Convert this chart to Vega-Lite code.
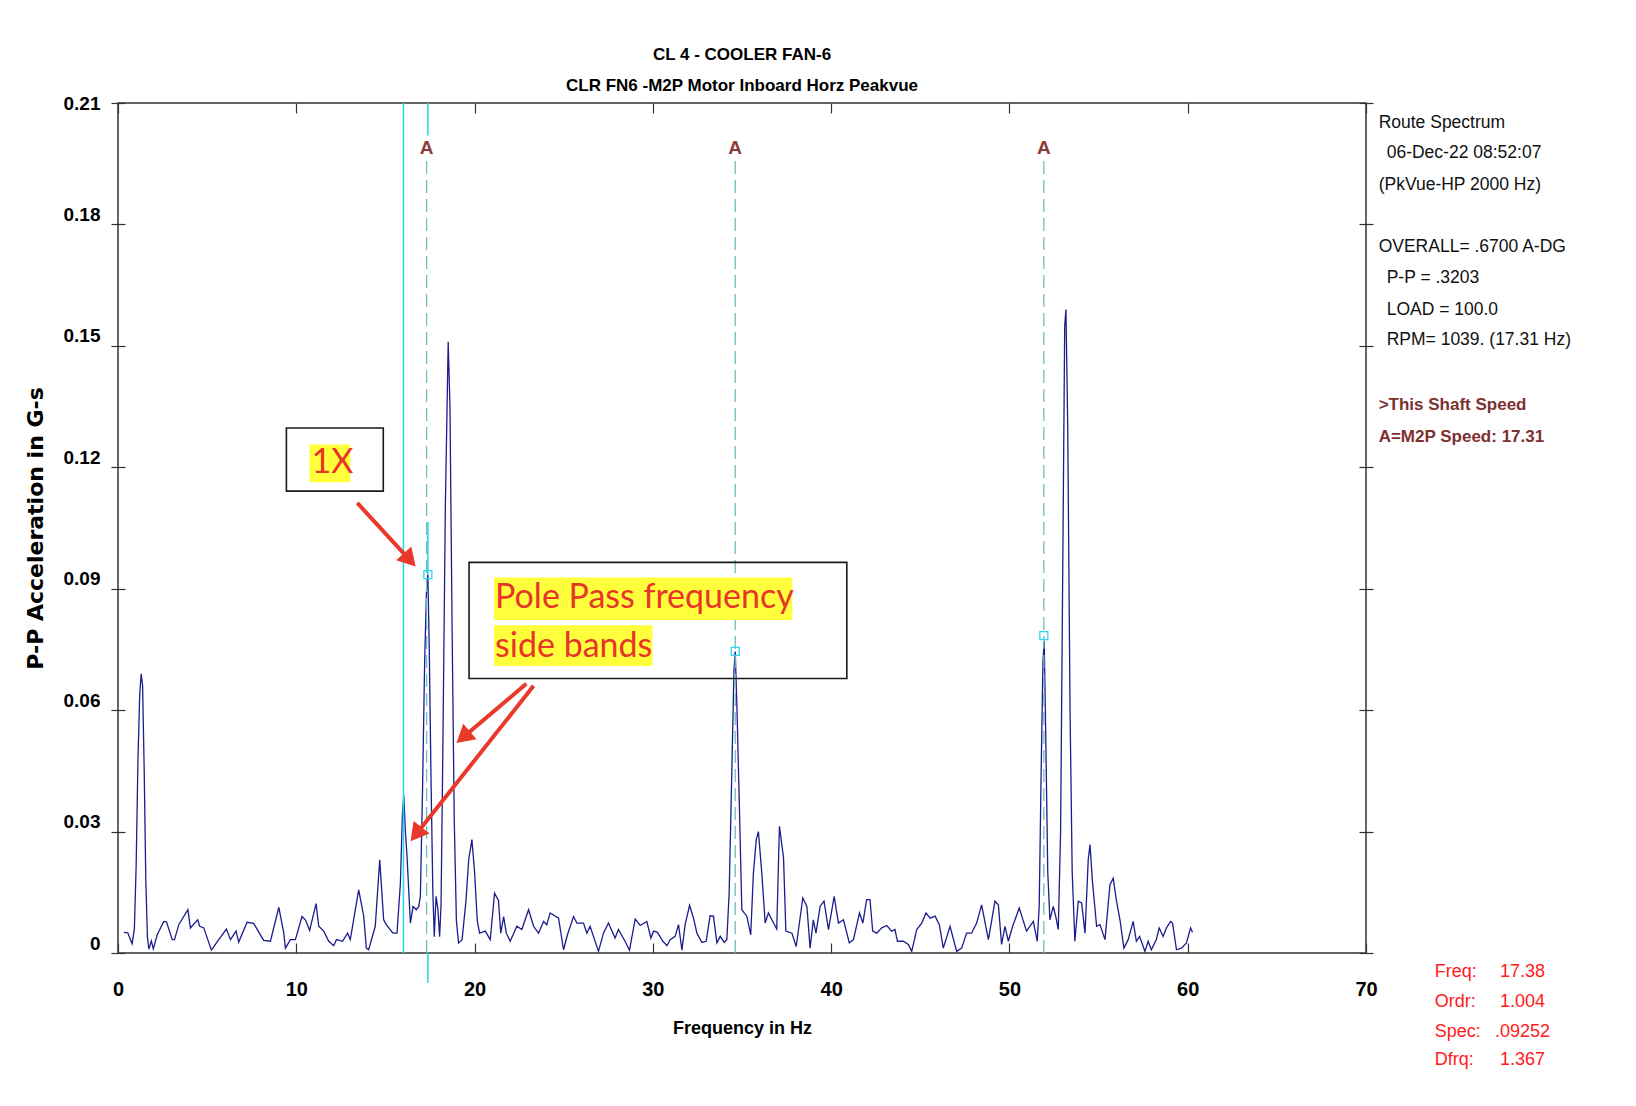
{
  "$schema": "https://vega.github.io/schema/vega-lite/v6.json",
  "width": 1248,
  "height": 850,
  "autosize": {"type": "none"},
  "padding": {"left": 118, "top": 103, "right": 270, "bottom": 153},
  "background": "white",
  "title": {
    "text": "CL 4 - COOLER FAN-6",
    "subtitle": "CLR FN6  -M2P   Motor Inboard Horz Peakvue",
    "anchor": "middle",
    "font": "Liberation Sans",
    "fontSize": 17,
    "fontWeight": "bold",
    "color": "black",
    "subtitleFont": "Liberation Sans",
    "subtitleFontSize": 17,
    "subtitleFontWeight": "bold",
    "subtitleColor": "black",
    "subtitlePadding": 14,
    "offset": -1
  },
  "config": {
    "view": {"stroke": "#333333", "strokeWidth": 1.5},
    "axis": {"grid": false, "tickColor": "#333333", "tickWidth": 1.2}
  },
  "datasets": {
    "spectrum": [
      {"f":0.33,"a":0.0051},{"f":0.55,"a":0.0050},{"f":0.79,"a":0.0023},{"f":0.92,"a":0.006},{"f":1.02,"a":0.022},{"f":1.12,"a":0.048},{"f":1.22,"a":0.064},{"f":1.30,"a":0.069},{"f":1.38,"a":0.066},{"f":1.47,"a":0.045},{"f":1.56,"a":0.018},{"f":1.65,"a":0.004},{"f":1.73,"a":0.0010},{"f":1.87,"a":0.0030},{"f":1.98,"a":0.0010},{"f":2.20,"a":0.0045},{"f":2.57,"a":0.0078},{"f":2.72,"a":0.0077},{"f":3.04,"a":0.0033},{"f":3.17,"a":0.0033},{"f":3.41,"a":0.0070},{"f":3.92,"a":0.0107},{"f":4.06,"a":0.0062},{"f":4.47,"a":0.0082},{"f":4.58,"a":0.0066},{"f":4.81,"a":0.0062},{"f":5.24,"a":0.0007},{"f":5.65,"a":0.0033},{"f":6.08,"a":0.0059},{"f":6.31,"a":0.0033},{"f":6.62,"a":0.0054},{"f":6.77,"a":0.0027},{"f":7.24,"a":0.0076},{"f":7.61,"a":0.0073},{"f":8.17,"a":0.0031},{"f":8.55,"a":0.0029},{"f":9.02,"a":0.0113},{"f":9.30,"a":0.0049},{"f":9.39,"a":0.0012},{"f":9.67,"a":0.0033},{"f":9.95,"a":0.0033},{"f":10.32,"a":0.0090},{"f":10.51,"a":0.0082},{"f":10.75,"a":0.0056},{"f":11.11,"a":0.0122},{"f":11.26,"a":0.0066},{"f":11.54,"a":0.0054},{"f":11.82,"a":0.0029},{"f":12.10,"a":0.0018},{"f":12.25,"a":0.0033},{"f":12.59,"a":0.0029},{"f":12.88,"a":0.0049},{"f":13.03,"a":0.0033},{"f":13.50,"a":0.0156},{"f":13.78,"a":0.0092},{"f":13.93,"a":0.0012},{"f":14.06,"a":0.0008},{"f":14.43,"a":0.0066},{"f":14.68,"a":0.0230},{"f":14.90,"a":0.0082},{"f":15.05,"a":0.0070},{"f":15.42,"a":0.0049},{"f":15.65,"a":0.0049},{"f":15.84,"a":0.0173},{"f":15.95,"a":0.0340},{"f":16.03,"a":0.0390},{"f":16.12,"a":0.0300},{"f":16.21,"a":0.0240},{"f":16.40,"a":0.0074},{"f":16.55,"a":0.0115},{"f":16.73,"a":0.0107},{"f":16.87,"a":0.0115},{"f":16.96,"a":0.0140},{"f":17.08,"a":0.0400},{"f":17.20,"a":0.0720},{"f":17.30,"a":0.0890},{"f":17.38,"a":0.0935},{"f":17.46,"a":0.0750},{"f":17.56,"a":0.0420},{"f":17.66,"a":0.0150},{"f":17.74,"a":0.0040},{"f":17.84,"a":0.0140},{"f":17.94,"a":0.0110},{"f":18.04,"a":0.0040},{"f":18.12,"a":0.0120},{"f":18.22,"a":0.0500},{"f":18.36,"a":0.1100},{"f":18.52,"a":0.1510},{"f":18.62,"a":0.1350},{"f":18.74,"a":0.0800},{"f":18.86,"a":0.0330},{"f":18.98,"a":0.0080},{"f":19.10,"a":0.0025},{"f":19.30,"a":0.0033},{"f":19.52,"a":0.0130},{"f":19.67,"a":0.0230},{"f":19.85,"a":0.0280},{"f":20.00,"a":0.0200},{"f":20.15,"a":0.0080},{"f":20.28,"a":0.0049},{"f":20.60,"a":0.0054},{"f":20.88,"a":0.0033},{"f":21.12,"a":0.0148},{"f":21.34,"a":0.0130},{"f":21.47,"a":0.0049},{"f":21.63,"a":0.0090},{"f":21.78,"a":0.0049},{"f":22.00,"a":0.0029},{"f":22.37,"a":0.0066},{"f":22.65,"a":0.0058},{"f":23.03,"a":0.0107},{"f":23.31,"a":0.0066},{"f":23.59,"a":0.0049},{"f":23.87,"a":0.0078},{"f":24.05,"a":0.0070},{"f":24.24,"a":0.0099},{"f":24.71,"a":0.0086},{"f":24.99,"a":0.0008},{"f":25.21,"a":0.0045},{"f":25.55,"a":0.0090},{"f":25.74,"a":0.0074},{"f":26.11,"a":0.0074},{"f":26.30,"a":0.0049},{"f":26.48,"a":0.0066},{"f":26.95,"a":0.0004},{"f":27.23,"a":0.0049},{"f":27.51,"a":0.0074},{"f":27.88,"a":0.0037},{"f":28.07,"a":0.0058},{"f":28.44,"a":0.0029},{"f":28.69,"a":0.0007},{"f":29.01,"a":0.0084},{"f":29.29,"a":0.0068},{"f":29.66,"a":0.0078},{"f":29.89,"a":0.0037},{"f":30.04,"a":0.0054},{"f":30.26,"a":0.0051},{"f":30.56,"a":0.0029},{"f":30.79,"a":0.0018},{"f":30.97,"a":0.0033},{"f":31.25,"a":0.0041},{"f":31.44,"a":0.0070},{"f":31.63,"a":0.0007},{"f":31.81,"a":0.0070},{"f":32.06,"a":0.0118},{"f":32.28,"a":0.0086},{"f":32.47,"a":0.0049},{"f":32.75,"a":0.0026},{"f":32.99,"a":0.0029},{"f":33.21,"a":0.0092},{"f":33.40,"a":0.0091},{"f":33.59,"a":0.0025},{"f":33.78,"a":0.0041},{"f":34.00,"a":0.0026},{"f":34.15,"a":0.0033},{"f":34.28,"a":0.0148},{"f":34.43,"a":0.0450},{"f":34.55,"a":0.0700},{"f":34.62,"a":0.0745},{"f":34.72,"a":0.0600},{"f":34.86,"a":0.0350},{"f":34.99,"a":0.0107},{"f":35.27,"a":0.0091},{"f":35.49,"a":0.0045},{"f":35.64,"a":0.0198},{"f":35.80,"a":0.0280},{"f":35.92,"a":0.0300},{"f":36.11,"a":0.0198},{"f":36.30,"a":0.0074},{"f":36.48,"a":0.0099},{"f":36.77,"a":0.0074},{"f":36.95,"a":0.0059},{"f":37.10,"a":0.0313},{"f":37.33,"a":0.0235},{"f":37.46,"a":0.0054},{"f":37.80,"a":0.0049},{"f":38.04,"a":0.0016},{"f":38.41,"a":0.0136},{"f":38.64,"a":0.0115},{"f":38.82,"a":0.0012},{"f":39.00,"a":0.0082},{"f":39.15,"a":0.0049},{"f":39.38,"a":0.0115},{"f":39.60,"a":0.0128},{"f":39.85,"a":0.0058},{"f":40.17,"a":0.0140},{"f":40.41,"a":0.0074},{"f":40.69,"a":0.0082},{"f":41.02,"a":0.0025},{"f":41.25,"a":0.0033},{"f":41.59,"a":0.0099},{"f":41.78,"a":0.0074},{"f":41.99,"a":0.0132},{"f":42.18,"a":0.0132},{"f":42.33,"a":0.0054},{"f":42.56,"a":0.0049},{"f":42.84,"a":0.0062},{"f":43.12,"a":0.0068},{"f":43.40,"a":0.0054},{"f":43.58,"a":0.0058},{"f":43.72,"a":0.0029},{"f":44.05,"a":0.0029},{"f":44.33,"a":0.0021},{"f":44.52,"a":0.0004},{"f":44.80,"a":0.0058},{"f":45.08,"a":0.0074},{"f":45.32,"a":0.0099},{"f":45.55,"a":0.0086},{"f":45.83,"a":0.0091},{"f":46.07,"a":0.0070},{"f":46.29,"a":0.0012},{"f":46.67,"a":0.0066},{"f":47.04,"a":0.0004},{"f":47.32,"a":0.0012},{"f":47.60,"a":0.0049},{"f":47.88,"a":0.0049},{"f":48.16,"a":0.0074},{"f":48.44,"a":0.0119},{"f":48.82,"a":0.0033},{"f":49.19,"a":0.0128},{"f":49.38,"a":0.0119},{"f":49.56,"a":0.0021},{"f":49.75,"a":0.0066},{"f":49.94,"a":0.0029},{"f":50.18,"a":0.0066},{"f":50.55,"a":0.0111},{"f":50.96,"a":0.0054},{"f":51.34,"a":0.0078},{"f":51.56,"a":0.0029},{"f":51.67,"a":0.0115},{"f":51.78,"a":0.0450},{"f":51.88,"a":0.0720},{"f":51.95,"a":0.0770},{"f":52.05,"a":0.0500},{"f":52.15,"a":0.0200},{"f":52.27,"a":0.0082},{"f":52.46,"a":0.0115},{"f":52.60,"a":0.0090},{"f":52.74,"a":0.0058},{"f":52.87,"a":0.0300},{"f":53.00,"a":0.1000},{"f":53.10,"a":0.1550},{"f":53.17,"a":0.1590},{"f":53.27,"a":0.1300},{"f":53.40,"a":0.0600},{"f":53.52,"a":0.0200},{"f":53.67,"a":0.0029},{"f":53.86,"a":0.0128},{"f":54.05,"a":0.0124},{"f":54.24,"a":0.0049},{"f":54.42,"a":0.0230},{"f":54.52,"a":0.0268},{"f":54.65,"a":0.0180},{"f":54.89,"a":0.0066},{"f":55.08,"a":0.0070},{"f":55.36,"a":0.0033},{"f":55.64,"a":0.0169},{"f":55.82,"a":0.0185},{"f":56.00,"a":0.0130},{"f":56.20,"a":0.0082},{"f":56.42,"a":0.0012},{"f":56.66,"a":0.0033},{"f":56.94,"a":0.0078},{"f":57.12,"a":0.0029},{"f":57.30,"a":0.0041},{"f":57.40,"a":0.0029},{"f":57.60,"a":0.0004},{"f":57.78,"a":0.0029},{"f":57.96,"a":0.0008},{"f":58.24,"a":0.0033},{"f":58.40,"a":0.0062},{"f":58.62,"a":0.0041},{"f":58.81,"a":0.0062},{"f":59.04,"a":0.0078},{"f":59.15,"a":0.0074},{"f":59.37,"a":0.0008},{"f":59.65,"a":0.0012},{"f":59.93,"a":0.0025},{"f":60.16,"a":0.0062},{"f":60.27,"a":0.0051}
    ],
    "cursor": [
      {"f":16.01,"a":0,"a2":0.21},
      {"f":17.38,"a":0.202,"a2":0.21},
      {"f":17.38,"a":0.0935,"a2":0.1065},
      {"f":17.38,"a":-0.0074,"a2":0}
    ],
    "orders": [
      {"f":17.31,"a":0,"a2":0.196,"top":0.199,"label":"A"},
      {"f":34.62,"a":0,"a2":0.196,"top":0.199,"label":"A"},
      {"f":51.93,"a":0,"a2":0.196,"top":0.199,"label":"A"}
    ],
    "markers": [
      {"f":17.38,"a":0.0935},
      {"f":34.62,"a":0.0745},
      {"f":51.93,"a":0.0784}
    ],
    "boxes": [
      {"f":9.445,"f2":14.88,"a":0.1141,"a2":0.1297},
      {"f":19.69,"f2":40.88,"a":0.0678,"a2":0.0965}
    ],
    "highlights": [
      {"f":10.74,"f2":13.03,"a":0.1163,"a2":0.1256},
      {"f":21.09,"f2":37.82,"a":0.0823,"a2":0.0928},
      {"f":21.09,"f2":29.98,"a":0.0709,"a2":0.0810}
    ],
    "notes": [
      {"f":10.85,"a":0.1211,"text":"1X"},
      {"f":21.15,"a":0.0877,"text":"Pole Pass frequency"},
      {"f":21.15,"a":0.0756,"text":"side bands"}
    ],
    "arrows": [
      {"f":13.42,"a":0.1112,"f2":16.36,"a2":0.0971,"dir":137.8},
      {"f":22.90,"a":0.0665,"f2":19.36,"a2":0.0533,"dir":229.6},
      {"f":23.31,"a":0.0660,"f2":16.72,"a2":0.02935,"dir":218.4}
    ],
    "panel": [
      {"f":70.71,"a":0.2051,"text":"Route Spectrum"},
      {"f":71.16,"a":0.1976,"text":"06-Dec-22  08:52:07"},
      {"f":70.71,"a":0.1897,"text":"(PkVue-HP 2000 Hz)"},
      {"f":70.71,"a":0.1744,"text":"OVERALL= .6700 A-DG"},
      {"f":71.16,"a":0.1668,"text":"P-P =  .3203"},
      {"f":71.16,"a":0.1589,"text":"LOAD = 100.0"},
      {"f":71.16,"a":0.1515,"text":"RPM= 1039. (17.31 Hz)"}
    ],
    "panelNote": [
      {"f":70.71,"a":0.1354,"text":">This Shaft Speed"},
      {"f":70.71,"a":0.1275,"text":"A=M2P Speed: 17.31"}
    ],
    "readout": [
      {"fl":73.85,"fv":78.78,"a":-0.0047,"label":"Freq:","value":"17.38"},
      {"fl":73.85,"fv":78.78,"a":-0.0121,"label":"Ordr:","value":"1.004"},
      {"fl":73.85,"fv":78.78,"a":-0.0195,"label":"Spec:","value":".09252"},
      {"fl":73.85,"fv":78.78,"a":-0.0264,"label":"Dfrq:","value":"1.367"}
    ]
  },
  "layer": [
    {
      "data": {"name": "spectrum"},
      "mark": {"type": "line", "color": "#1C1C8C", "strokeWidth": 1.3},
      "encoding": {
        "x": {
          "field": "f", "type": "quantitative",
          "scale": {"domain": [0, 70], "nice": false, "zero": false},
          "axis": {
            "orient": "bottom", "values": [0,10,20,30,40,50,60,70],
            "offset": -10, "tickSize": 10, "domain": false,
            "labelFont": "Liberation Sans",
            "labelFontSize": 20, "labelFontWeight": "bold", "labelColor": "black",
            "labelPadding": 26, "labelFlush": false, "labelOverlap": false,
            "title": "Frequency in Hz",
            "titleFont": "Liberation Sans",
            "titleFontSize": 18, "titleFontWeight": "bold", "titleColor": "black", "titlePadding": 20
          }
        },
        "y": {
          "field": "a", "type": "quantitative",
          "scale": {"domain": [0, 0.21], "nice": false, "zero": false},
          "axis": {
            "orient": "left", "values": [0,0.03,0.06,0.09,0.12,0.15,0.18,0.21],
            "labelExpr": "datum.value == 0 ? '0' : format(datum.value, '.2f')",
            "offset": -7, "tickSize": 14, "domain": false,
            "labelFont": "Liberation Sans",
            "labelFontSize": 19, "labelFontWeight": "bold", "labelColor": "black",
            "labelPadding": 11,
            "labelBaseline": {"condition": {"test": "datum.value > 0.2", "value": "middle"}, "value": "alphabetic"},
            "labelOffset": {"condition": {"test": "datum.value > 0.2", "value": 0}, "value": -4},
            "labelFlush": false, "labelOverlap": false,
            "title": "P-P Acceleration in G-s",
            "titleFont": "DejaVu Sans", "titleFontSize": 22, "titleFontWeight": "bold",
            "titleColor": "black", "titlePadding": 16
          }
        }
      }
    },
    {
      "data": {"name": "cursor"},
      "mark": {"type": "rule", "color": "#2ED8EA", "strokeWidth": 1.6, "clip": false},
      "encoding": {
        "x": {
          "field": "f", "type": "quantitative",
          "axis": {"orient": "top", "values": [0,10,20,30,40,50,60,70], "offset": -10, "tickSize": 10, "labels": false, "domain": false, "title": null}
        },
        "y": {
          "field": "a", "type": "quantitative",
          "axis": {"orient": "right", "values": [0,0.03,0.06,0.09,0.12,0.15,0.18,0.21], "offset": -7, "tickSize": 14, "labels": false, "domain": false, "title": null}
        },
        "y2": {"field": "a2"}
      }
    },
    {
      "data": {"name": "orders"},
      "mark": {"type": "rule", "color": "#6FBDBD", "strokeWidth": 1.3, "strokeDash": [13, 6]},
      "encoding": {
        "x": {"field": "f", "type": "quantitative", "axis": null},
        "y": {"field": "a", "type": "quantitative", "axis": null},
        "y2": {"field": "a2"}
      }
    },
    {
      "data": {"name": "orders"},
      "mark": {"type": "text", "color": "#8C3B3B", "fontSize": 19, "fontWeight": "bold", "font": "Liberation Sans", "baseline": "middle", "align": "center"},
      "encoding": {
        "x": {"field": "f", "type": "quantitative", "axis": null},
        "y": {"field": "top", "type": "quantitative", "axis": null},
        "text": {"field": "label"}
      }
    },
    {
      "data": {"name": "markers"},
      "mark": {"type": "point", "shape": "square", "size": 64, "filled": false, "color": "#2ED8EA", "strokeWidth": 1.3, "opacity": 1},
      "encoding": {
        "x": {"field": "f", "type": "quantitative", "axis": null},
        "y": {"field": "a", "type": "quantitative", "axis": null}
      }
    },
    {
      "data": {"name": "boxes"},
      "mark": {"type": "rect", "fill": null, "fillOpacity": 0, "stroke": "#1a1a1a", "strokeWidth": 1.6},
      "encoding": {
        "x": {"field": "f", "type": "quantitative", "axis": null},
        "x2": {"field": "f2"},
        "y": {"field": "a", "type": "quantitative", "axis": null},
        "y2": {"field": "a2"}
      }
    },
    {
      "data": {"name": "highlights"},
      "mark": {"type": "rect", "fill": "#FFFF3C", "stroke": null},
      "encoding": {
        "x": {"field": "f", "type": "quantitative", "axis": null},
        "x2": {"field": "f2"},
        "y": {"field": "a", "type": "quantitative", "axis": null},
        "y2": {"field": "a2"}
      }
    },
    {
      "data": {"name": "notes"},
      "mark": {"type": "text", "color": "#E8352A", "font": "Lato", "fontSize": 34, "align": "left", "baseline": "middle"},
      "encoding": {
        "x": {"field": "f", "type": "quantitative", "axis": null},
        "y": {"field": "a", "type": "quantitative", "axis": null},
        "text": {"field": "text"}
      }
    },
    {
      "data": {"name": "arrows"},
      "mark": {"type": "rule", "color": "#E8392B", "strokeWidth": 4},
      "encoding": {
        "x": {"field": "f", "type": "quantitative", "axis": null},
        "y": {"field": "a", "type": "quantitative", "axis": null},
        "x2": {"field": "f2"},
        "y2": {"field": "a2"}
      }
    },
    {
      "data": {"name": "arrows"},
      "mark": {"type": "point", "shape": "triangle-up", "size": 420, "filled": true, "color": "#E8392B", "opacity": 1},
      "encoding": {
        "x": {"field": "f2", "type": "quantitative", "axis": null},
        "y": {"field": "a2", "type": "quantitative", "axis": null},
        "angle": {"field": "dir", "type": "quantitative", "scale": null}
      }
    },
    {
      "data": {"name": "panel"},
      "mark": {"type": "text", "color": "#111111", "font": "Liberation Sans", "fontSize": 17.5, "align": "left", "baseline": "middle"},
      "encoding": {
        "x": {"field": "f", "type": "quantitative", "axis": null},
        "y": {"field": "a", "type": "quantitative", "axis": null},
        "text": {"field": "text"}
      }
    },
    {
      "data": {"name": "panelNote"},
      "mark": {"type": "text", "color": "#7E2F2F", "font": "Liberation Sans", "fontSize": 17, "fontWeight": "bold", "align": "left", "baseline": "middle"},
      "encoding": {
        "x": {"field": "f", "type": "quantitative", "axis": null},
        "y": {"field": "a", "type": "quantitative", "axis": null},
        "text": {"field": "text"}
      }
    },
    {
      "data": {"name": "readout"},
      "mark": {"type": "text", "color": "#FF1A1A", "font": "Liberation Sans", "fontSize": 18, "align": "left", "baseline": "middle"},
      "encoding": {
        "x": {"field": "fl", "type": "quantitative", "axis": null},
        "y": {"field": "a", "type": "quantitative", "axis": null},
        "text": {"field": "label"}
      }
    },
    {
      "data": {"name": "readout"},
      "mark": {"type": "text", "color": "#FF1A1A", "font": "Liberation Sans", "fontSize": 18, "align": "center", "baseline": "middle"},
      "encoding": {
        "x": {"field": "fv", "type": "quantitative", "axis": null},
        "y": {"field": "a", "type": "quantitative", "axis": null},
        "text": {"field": "value"}
      }
    }
  ],
  "resolve": {"axis": {"x": "independent", "y": "independent"}}
}
